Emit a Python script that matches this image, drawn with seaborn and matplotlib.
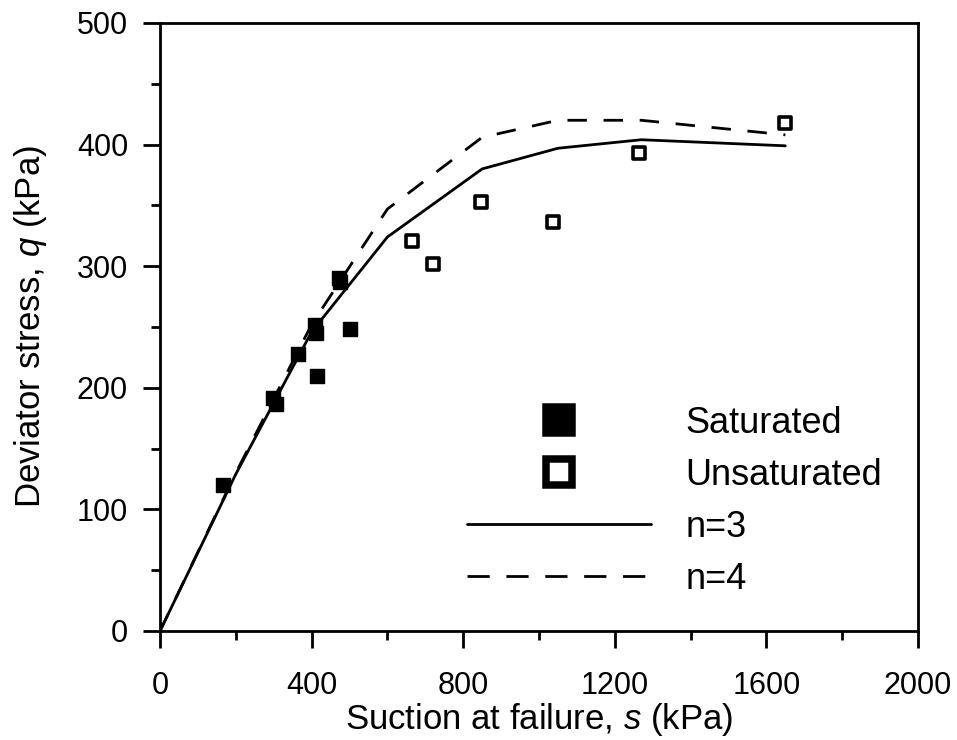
import numpy as np
import pandas as pd
import matplotlib
matplotlib.use("Agg")
import matplotlib.pyplot as plt
from matplotlib.lines import Line2D
from matplotlib.ticker import MultipleLocator
import seaborn as sns

# datos
sat_s = [165, 297, 306, 364, 410, 412, 413, 472, 476, 500]
sat_q = [120, 192, 187, 228, 252, 245, 210, 290, 287, 248]

unsat_s = [664, 720, 848, 1038, 1265, 1649]
unsat_q = [321, 302, 353, 336, 393, 418]

model_s = [0, 200, 400, 600, 850, 1050, 1270, 1650]
n3_q = [0, 129, 246, 324, 380, 397, 404, 399]
n4_q = [0, 130, 252, 347, 406, 420, 420, 408]

sns.set_style("ticks")
plt.rcParams['font.family'] = ['Liberation Sans', 'DejaVu Sans']
plt.rcParams['text.color'] = 'black'
plt.rcParams['axes.labelcolor'] = 'black'
plt.rcParams['mathtext.fontset'] = 'custom'
plt.rcParams['mathtext.rm'] = 'Liberation Sans'
plt.rcParams['mathtext.it'] = 'Liberation Sans:italic'

fig = plt.figure(figsize=(9.57, 7.40), dpi=100)
ax = fig.add_axes([160 / 957, 1 - 631 / 740, (918 - 160) / 957, (631 - 23) / 740])

# curvas del modelo
sns.lineplot(x=model_s, y=n3_q, ax=ax, color='black', lw=2, estimator=None, sort=False)
sns.lineplot(x=model_s, y=n4_q, ax=ax, color='black', lw=2, estimator=None, sort=False,
             linestyle=(0, (7, 6)))

# puntos experimentales
sns.scatterplot(x=sat_s, y=sat_q, ax=ax, marker='s', s=110, color='black',
                edgecolor='black', linewidth=1, zorder=3)
sns.scatterplot(x=unsat_s, y=unsat_q, ax=ax, marker='s', s=64, color='white',
                edgecolor='black', linewidth=2.6, zorder=3)

ax.set_xlim(0, 2000)
ax.set_ylim(0, 500)
ax.xaxis.set_major_locator(MultipleLocator(400))
ax.xaxis.set_minor_locator(MultipleLocator(200))
ax.yaxis.set_major_locator(MultipleLocator(100))
ax.yaxis.set_minor_locator(MultipleLocator(50))

for sp in ax.spines.values():
    sp.set_linewidth(2)
    sp.set_color('black')

ax.tick_params(which='major', length=12, width=2, direction='out', labelsize=22,
               colors='black')
ax.tick_params(which='minor', length=6.5, width=2, direction='out', colors='black')
ax.tick_params(axis='x', which='major', pad=17)
ax.tick_params(axis='y', which='major', pad=11)

ax.set_xlabel(r"Suction at failure, $\mathit{s}$ (kPa)", fontsize=25, labelpad=0)
ax.set_ylabel(r"Deviator stress, $\mathit{q}$ (kPa)", fontsize=25, labelpad=20)

# leyenda manual
handles = [
    Line2D([], [], ls='none', marker='s', ms=18.4, mfc='black', mec='black', mew=5.4),
    Line2D([], [], ls='none', marker='s', ms=18.4, mfc='white', mec='black', mew=5.4),
    Line2D([], [], color='black', lw=2),
    Line2D([], [], color='black', lw=2, ls=(0, (8, 6))),
]
labels = ['Saturated', 'Unsaturated', 'n=3', 'n=4']
ax.legend(handles, labels, loc='upper left', bbox_to_anchor=(467 / 957, 1 - 406 / 740),
          bbox_transform=fig.transFigure, frameon=False, fontsize=26,
          handlelength=5.1, handletextpad=0.95, labelspacing=0.47,
          borderpad=0, borderaxespad=0)

fig.savefig("out.png", dpi=100)
